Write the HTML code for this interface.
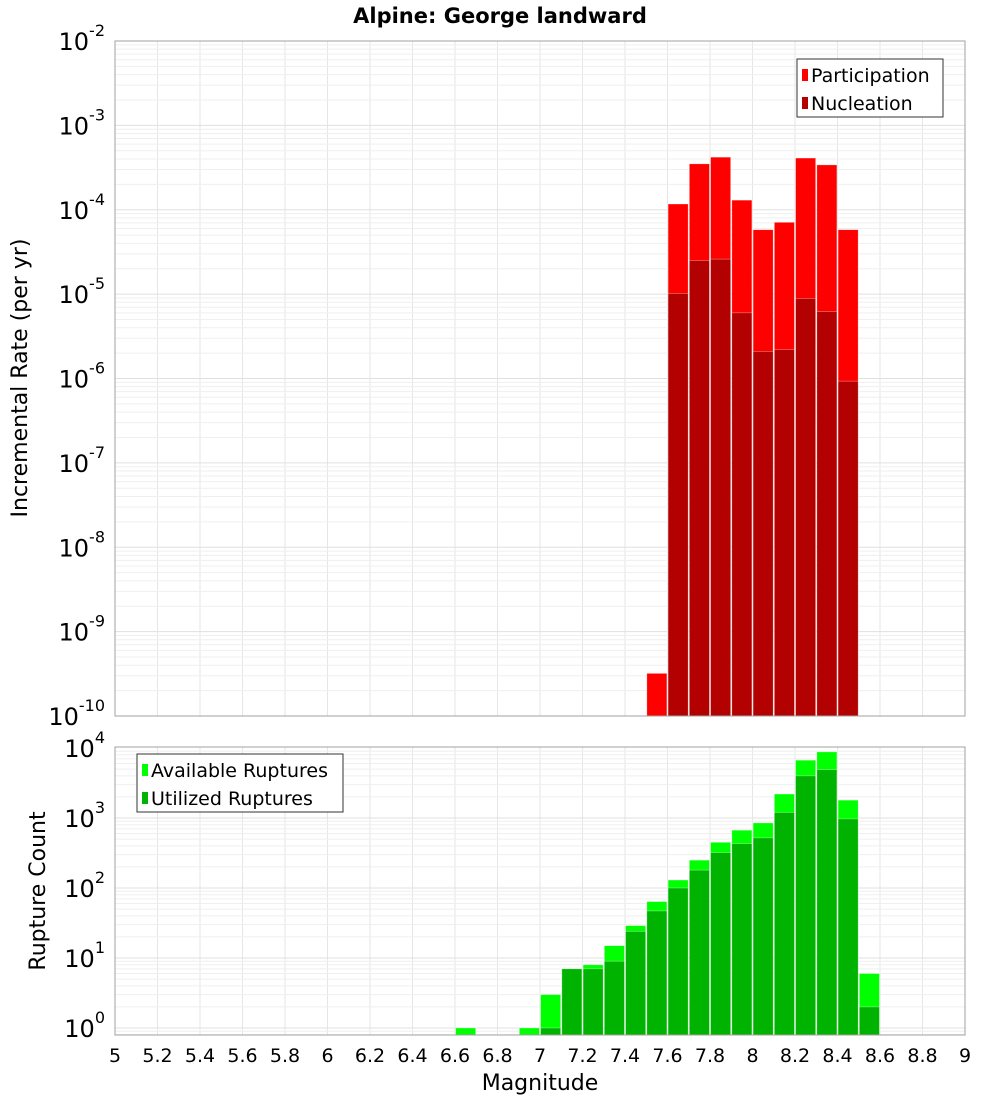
<!DOCTYPE html>
<html><head><meta charset="utf-8"><style>
body{margin:0;background:#fff;font-family:"DejaVu Sans","Liberation Sans",sans-serif}
svg text{font-family:"DejaVu Sans","Liberation Sans",sans-serif}
</style></head><body>
<svg id="c" width="1000" height="1100" xmlns="http://www.w3.org/2000/svg">
<text x="500" y="23" text-anchor="middle" font-size="21" font-weight="bold">Alpine: George landward</text>
<g id="grid"></g><g id="bars"></g><g id="axes"></g>
</svg>
<script>
const mags=[6.65,6.95,7.05,7.15,7.25,7.35,7.45,7.55,7.65,7.75,7.85,7.95,8.05,8.15,8.25,8.35,8.45,8.55];
const rateMags=[7.55,7.65,7.75,7.85,7.95,8.05,8.15,8.25,8.35,8.45];
const participation=[3.2e-10,1.17e-4,3.5e-4,4.2e-4,1.3e-4,5.8e-5,7.1e-5,4.1e-4,3.4e-4,5.8e-5];
const nucleation=[0,1.02e-5,2.5e-5,2.6e-5,6e-6,2.1e-6,2.2e-6,8.9e-6,6.2e-6,9.3e-7];
const available=[1,1,3,7,8,15,29,64,130,250,450,670,850,2200,6700,8800,1800,6];
const utilized=[0,0,1,7,7,9,24,47,100,180,320,430,520,1200,4000,4900,970,2];
const xTicks=["5","5.2","5.4","5.6","5.8","6","6.2","6.4","6.6","6.8","7","7.2","7.4","7.6","7.8","8","8.2","8.4","8.6","8.8","9"];
const topExps=[-2,-3,-4,-5,-6,-7,-8,-9,-10];
const botExps=[4,3,2,1,0];

const NS="http://www.w3.org/2000/svg";
const X0=115,X1=965;
const xs=m=>X0+(m-5)/4*(X1-X0);
const T={top:41,bot:716,lo:-10,hi:-2};
const B={top:747,bot:1035,lo:-0.1,hi:4};
const B0={y0:1028,pd:70};
const yT=v=>T.bot-(Math.log10(v)-T.lo)/(T.hi-T.lo)*(T.bot-T.top);
const yB=v=>B0.y0-Math.log10(v)*B0.pd;
function mk(tag,at,par){const e=document.createElementNS(NS,tag);for(const k in at)e.setAttribute(k,at[k]);document.getElementById(par).appendChild(e);return e;}
// grids
function grids(top,bot,yf,elo,ehi){
  for(let i=0;i<=20;i++){const x=xs(5+i*0.2);
    const l=mk('line',{x1:x,x2:x,y1:top,y2:bot,stroke:'#e6e6e6','stroke-width':1},'grid');
    
    }
  for(let e=elo;e<ehi;e++)for(let k=1;k<10;k++){const y=yf(k*Math.pow(10,e));if(y<top||y>bot)continue;
    const l=mk('line',{x1:X0,x2:X1,y1:y,y2:y,stroke:k==1?'#e0e0e0':'#efefef','stroke-width':1},'grid');
    
    }
}
grids(T.top,T.bot,yT,-10,-2);
grids(B.top,B.bot,yB,-1,4);
const bw=(X1-X0)/40;
function bar(m,v,yf,base,fill,name){if(!v)return;const y=yf(v);
  const r=mk('rect',{x:xs(m)-bw/2+0.6,y:y,width:bw-1.2,height:base-y,fill:fill,stroke:'#ffffff','stroke-opacity':0.5,'stroke-width':0.6},'bars');
  
  }
rateMags.forEach((m,i)=>bar(m,participation[i],yT,T.bot,'#ff0000','participation-bar'));
rateMags.forEach((m,i)=>bar(m,nucleation[i],yT,T.bot,'#b30000','nucleation-bar'));
mags.forEach((m,i)=>bar(m,available[i],yB,B.bot,'#00ff00','available-bar'));
mags.forEach((m,i)=>bar(m,utilized[i],yB,B.bot,'#00b300','utilized-bar'));
// frames
[[T.top,T.bot],[B.top,B.bot]].forEach(([t,b])=>{const r=mk('rect',{x:X0,y:t,width:X1-X0,height:b-t,fill:'none',stroke:'#a0a0a0','stroke-width':1},'axes');
  
  });
function ylab(y,e,name){const t=mk('text',{x:105,y:y+9,'text-anchor':'end','font-size':24},'axes');
  
  
  t.innerHTML='10<tspan dy="-14" font-size="16">'+e+'</tspan>';}
topExps.forEach(e=>ylab(yT(Math.pow(10,e)),e,'y-tick-label'));
botExps.forEach(e=>ylab(yB(Math.pow(10,e)),e,'y-tick-label'));
xTicks.forEach(s=>{const t=mk('text',{x:xs(+s),y:1062,'text-anchor':'middle','font-size':19},'axes');
  
  
  t.textContent=s;});
function txt(at,s,name){const t=mk('text',at,'axes');
  
  
  t.textContent=s;return t;}
txt({x:540,y:1090,'text-anchor':'middle','font-size':22},'Magnitude','x-axis-title');
txt({x:0,y:0,'text-anchor':'middle','font-size':22,transform:'translate(27,378) rotate(-90)'},'Incremental Rate (per yr)','top-y-axis-title');
txt({x:0,y:0,'text-anchor':'middle','font-size':22,transform:'translate(45,891) rotate(-90)'},'Rupture Count','bottom-y-axis-title');
// legends
function legend(x,y,w,items,name){const g=mk('rect',{x:x,y:y,width:w,height:58,fill:'#fff',stroke:'#333','stroke-width':1},'axes');
  
  
  items.forEach(([c,s],i)=>{const r=mk('rect',{x:x+5,y:y+10+i*28,width:6,height:12,fill:c},'axes');
    
    
    txt({x:x+14,y:y+23+i*28,'font-size':19},s,'legend-entry');});}
legend(797,59,146,[['#ff0000','Participation'],['#b30000','Nucleation']],'top-legend');
legend(137,754,206,[['#00ff00','Available Ruptures'],['#00b300','Utilized Ruptures']],'bottom-legend');
</script>
</body></html>
